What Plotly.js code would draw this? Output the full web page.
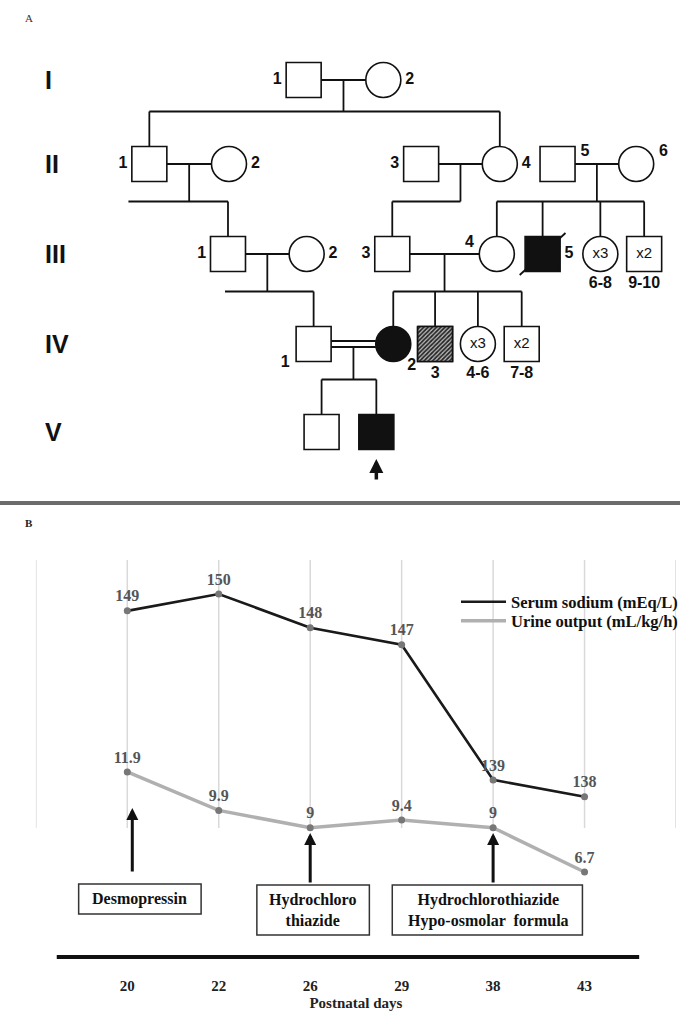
<!DOCTYPE html>
<html><head><meta charset="utf-8">
<script src="https://cdn.plot.ly/plotly-3.0.1.min.js"></script>
<style>html,body{margin:0;padding:0;background:#fff}#chart{width:683px;height:1013px}</style>
</head><body><div id="chart"></div>
<script>
// ================= Panel B data =================
const days = ['20','22','26','29','38','43'];
const serumSodium = [149,150,148,147,139,138];
const urineOutput = [11.9,9.9,9,9.4,9,6.7];
const seriesNames = ['Serum sodium (mEq/L)','Urine output (mL/kg/h)'];
const treatmentDays = ['20','26','38'];
const treatmentLabels = ['Desmopressin','Hydrochloro<br>thiazide','Hydrochlorothiazide<br>Hypo-osmolar  formula'];
const xAxisTitle = 'Postnatal days';

// ================= Panel A (pedigree) data =================
const generations = ['I','II','III','IV','V'];
const pedGeneration = [0,0, 1,1,1,1,1,1, 2,2,2,2,2,2,2, 3,3,3,3,3, 4,4];
const pedSex = ['M','F', 'M','F','M','F','M','F', 'M','F','M','F','M','F','M', 'M','F','M','F','M', 'M','M'];
const pedStatus = ['u','u', 'u','u','u','u','u','u', 'u','u','u','u','a','u','u', 'u','a','h','u','u', 'u','a'];
const pedDeceased = [false,false, false,false,false,false,false,false, false,false,false,false,true,false,false, false,false,false,false,false, false,false];
const pedLabel = ['1','2', '1','2','3','4','5','6', '1','2','3','4','5','6-8','9-10', '1','2','3','4-6','7-8', '',''];
const pedCount = ['','', '','','','','','', '','','','','','x3','x2', '','','','x3','x2', '',''];
const pedCouples = [[0,1],[2,3],[4,5],[6,7],[8,9],[10,11],[15,16]];
const pedConsanguineous = [false,false,false,false,false,false,true];
const pedChildren = [[2,5],[8],[10],[11,12,13,14],[15],[16,17,18,19],[20,21]];
const proband = 21;

// ================= Pedigree layout (positions, px-like units) =================
const pedX = [305,385, 150,230,423,502,560,639, 229,308,394,499,545,603,647, 315,395,437,480,524, 323,378];
const genY = [80,164,254,344,432];
const labelSide = ['l','r', 'l','r','l','r','ur','ur', 'l','r','l','ul','r','b','b', 'bl','br','b','b','b', '',''];
const sibLeftExtend = [null,129,null,null,226,null,null];
const H = 17.5; // half symbol size

const W = 683, HT = 1013;
const py = p => 1 - p / HT;   // pixel y -> paper
const px = p => p / W;        // pixel x -> paper

const pedFont = 'Liberation Sans Narrow, Liberation Sans, Arial, sans-serif';
const serif = 'Liberation Serif, Times New Roman, serif';

// ---- pedigree lines ----
const lx = [], ly = [];
function seg(x0,y0,x1,y1){ lx.push(x0,x1,null); ly.push(y0,y1,null); }
pedCouples.forEach((c, k) => {
  const a = c[0], b = c[1];
  const y = genY[pedGeneration[a]];
  const x1 = pedX[a] + H, x2 = pedX[b] - H;
  let yDesc = y;
  if (pedConsanguineous[k]) { seg(x1, y-3, x2, y-3); seg(x1, y+3, x2, y+3); yDesc = y+3; }
  else seg(x1, y, x2, y);
  const mx = (x1 + x2) / 2;
  const kids = pedChildren[k];
  const childTop = genY[pedGeneration[kids[0]]] - H;
  const sibY = childTop - 35;
  seg(mx, yDesc, mx, sibY);
  const xs = kids.map(i => pedX[i]).concat([mx]);
  if (sibLeftExtend[k] !== null) xs.push(sibLeftExtend[k]);
  seg(Math.min(...xs), sibY, Math.max(...xs), sibY);
  kids.forEach(i => seg(pedX[i], sibY, pedX[i], genY[pedGeneration[i]] - H));
});

const pedYs = pedGeneration.map(g => genY[g]);

const traces = [];
traces.push({x: lx, y: ly, xaxis:'x2', yaxis:'y3', mode:'lines', line:{color:'#111', width:1.8}, showlegend:false, hoverinfo:'skip'});
traces.push({
  x: pedX, y: pedYs, xaxis:'x2', yaxis:'y3', mode:'markers', showlegend:false, hoverinfo:'skip',
  marker:{
    symbol: pedSex.map(s => s === 'M' ? 'square' : 'circle'),
    size: 35,
    color: pedStatus.map(s => s === 'a' ? '#111' : '#fff'),
    line:{color:'#111', width:1.6}
  }
});
// hatched individuals
pedStatus.forEach((s, i) => {
  if (s !== 'h') return;
  const cx = pedX[i], cy = pedYs[i];
  traces.push({
    x:[cx-H, cx+H, cx+H, cx-H, cx-H], y:[cy-H, cy-H, cy+H, cy+H, cy-H], xaxis:'x2', yaxis:'y3',
    mode:'lines', fill:'toself', fillcolor:'#fff',
    fillpattern:{shape:'/', size:3, solidity:0.55, fgcolor:'#222', bgcolor:'#b8b8b8'},
    line:{color:'#111', width:1.6}, showlegend:false, hoverinfo:'skip'
  });
});
// deceased slash
const dx = [], dy = [];
pedDeceased.forEach((d, i) => { if (d) { dx.push(pedX[i]-23, pedX[i]+23, null); dy.push(pedYs[i]+21, pedYs[i]-21, null); } });
traces.push({x: dx, y: dy, xaxis:'x2', yaxis:'y3', mode:'lines', line:{color:'#111', width:1.8}, showlegend:false, hoverinfo:'skip'});
// counts inside symbols
traces.push({x: pedX, y: pedYs, xaxis:'x2', yaxis:'y3', mode:'text', text: pedCount, textposition:'middle center',
  textfont:{family: pedFont, size:15, color:'#111'}, showlegend:false, hoverinfo:'skip'});
// individual labels
const labX = [], labY = [];
pedX.forEach((cx, i) => {
  const cy = pedYs[i], s = labelSide[i];
  let x = cx, y = cy;
  if (s === 'l') { x = cx - H - 9; }
  else if (s === 'r') { x = cx + H + 9; }
  else if (s === 'ur') { x = cx + H + 10; y = cy - 12; }
  else if (s === 'ul') { x = cx - H - 10; y = cy - 11; }
  else if (s === 'b') { y = cy + H + 12; }
  else if (s === 'bl') { x = cx - H - 11; y = cy + 19; }
  else if (s === 'br') { x = cx + H + 1; y = cy + 22; }
  labX.push(x); labY.push(y);
});
traces.push({x: labX, y: labY, xaxis:'x2', yaxis:'y3', mode:'text', text: pedLabel, textposition:'middle center',
  textfont:{family: pedFont, size:16, color:'#111', weight:'bold'}, showlegend:false, hoverinfo:'skip'});

// ================= Panel B traces =================
traces.push({x: days, y: serumSodium, xaxis:'x', yaxis:'y', mode:'lines', name: seriesNames[0], legend:'legend',
  line:{color:'#1a1a1a', width:2.6}, hoverinfo:'skip'});
traces.push({x: days, y: urineOutput, xaxis:'x', yaxis:'y2', mode:'lines', name: seriesNames[1], legend:'legend2',
  line:{color:'#b0b0b0', width:3.5}, hoverinfo:'skip'});
traces.push({x: days, y: serumSodium, xaxis:'x', yaxis:'y', mode:'markers+text', text: serumSodium.map(String),
  textposition:'top center', marker:{size:7, color:'#777'}, showlegend:false, cliponaxis:false,
  textfont:{family: serif, size:16, color:'#555', weight:'bold'}, hoverinfo:'skip'});
traces.push({x: days, y: urineOutput, xaxis:'x', yaxis:'y2', mode:'markers+text', text: urineOutput.map(String),
  textposition:'top center', marker:{size:7, color:'#777'}, showlegend:false, cliponaxis:false,
  textfont:{family: serif, size:16, color:'#555', weight:'bold'}, hoverinfo:'skip'});

// ================= shapes =================
const shapes = [];
for (let i = -1; i <= days.length; i++) {
  shapes.push({type:'line', xref:'x', yref:'paper', x0:i, x1:i, y0:py(828), y1:py(560), line:{color:'#d9d9d9', width:1.5}, layer:'below'});
}
shapes.push({type:'line', xref:'paper', yref:'paper', x0:0, x1:1, y0:py(503), y1:py(503), line:{color:'#6b6b6b', width:4}});
shapes.push({type:'line', xref:'paper', yref:'paper', x0:px(57), x1:px(642), y0:py(957), y1:py(957), line:{color:'#111', width:4}});
const boxPx = [[79,884,202,914],[258,885,371,935],[394,885,585,935]];
boxPx.forEach(b => shapes.push({type:'rect', xref:'paper', yref:'paper', x0:px(b[0]), x1:px(b[2]), y0:py(b[3]), y1:py(b[1]),
  line:{color:'#333', width:1.5}, fillcolor:'rgba(0,0,0,0)'}));

// ================= annotations =================
const ann = [];
ann.push({text:'A', xref:'paper', yref:'paper', x:px(23), y:py(18), xanchor:'left', yanchor:'middle', showarrow:false, font:{family:serif, size:11, color:'#333'}});
ann.push({text:'B', xref:'paper', yref:'paper', x:px(23), y:py(523), xanchor:'left', yanchor:'middle', showarrow:false, font:{family:serif, size:11, color:'#222', weight:'bold'}});
generations.forEach((g, i) => ann.push({text:g, xref:'paper', yref:'y3', x:px(43), y:genY[i], xanchor:'left', yanchor:'middle', showarrow:false,
  font:{family:pedFont, size:25, color:'#111', weight:'bold'}}));
ann.push({text:'', xref:'x2', yref:'y3', x:pedX[proband], y:459, ax:0, ay:22, showarrow:true, arrowhead:2, arrowsize:0.8, arrowwidth:3.5, arrowcolor:'#111'});
const boxCenterShift = [12, 2, -5];
const boxCenterY = [899, 910, 910];
const arrowShift = [5, 0, 0];
const arrowHeadY = [808, 833, 833];
const arrowTailY = [873, 884, 884];
treatmentLabels.forEach((t, i) => {
  const xi = days.indexOf(treatmentDays[i]);
  ann.push({text:t, xref:'x', yref:'paper', x:xi, y:py(boxCenterY[i]), xshift:boxCenterShift[i], xanchor:'center', yanchor:'middle', showarrow:false,
    font:{family:serif, size:16, color:'#111', weight:'bold'}});
  ann.push({text:'', xref:'x', yref:'paper', x:xi, y:py(arrowHeadY[i]), xshift:arrowShift[i],
    ax:0, ay:arrowTailY[i]-arrowHeadY[i], showarrow:true, arrowhead:2, arrowsize:0.8, arrowwidth:3, arrowcolor:'#111'});
});

const legendFont = {family:serif, size:16.5, color:'#111', weight:'bold'};
const layout = {
  width: W, height: HT, margin:{l:0, r:0, t:0, b:0, pad:0},
  paper_bgcolor:'#fff', plot_bgcolor:'rgba(0,0,0,0)',
  showlegend:true,
  legend:{x:px(458), y:py(602), xanchor:'left', yanchor:'middle', bgcolor:'rgba(0,0,0,0)', itemwidth:45, font:legendFont},
  legend2:{x:px(458), y:py(621), xanchor:'left', yanchor:'middle', bgcolor:'rgba(0,0,0,0)', itemwidth:45, font:legendFont},
  xaxis:{type:'category', categoryarray: days, range:[-1, days.length], domain:[px(36), px(679)], anchor:'y',
    showgrid:false, zeroline:false, showline:false, ticks:'', ticklabelstandoff:18,
    tickfont:{family:serif, size:15, color:'#222', weight:'bold'},
    title:{text:xAxisTitle, standoff:4, font:{family:serif, size:15, color:'#222', weight:'bold'}}},
  yaxis:{domain:[py(957), py(560)], range:[128.52, 152.01], visible:false, anchor:'x'},
  yaxis2:{overlaying:'y', range:[2.28, 22.92], visible:false, anchor:'x', side:'right'},
  xaxis2:{domain:[0,1], range:[0, W], anchor:'y3', visible:false},
  yaxis3:{domain:[py(500), 1], range:[500, 0], anchor:'x2', visible:false},
  shapes: shapes, annotations: ann
};
Plotly.newPlot('chart', traces, layout, {staticPlot:true, displayModeBar:false});
</script></body></html>
